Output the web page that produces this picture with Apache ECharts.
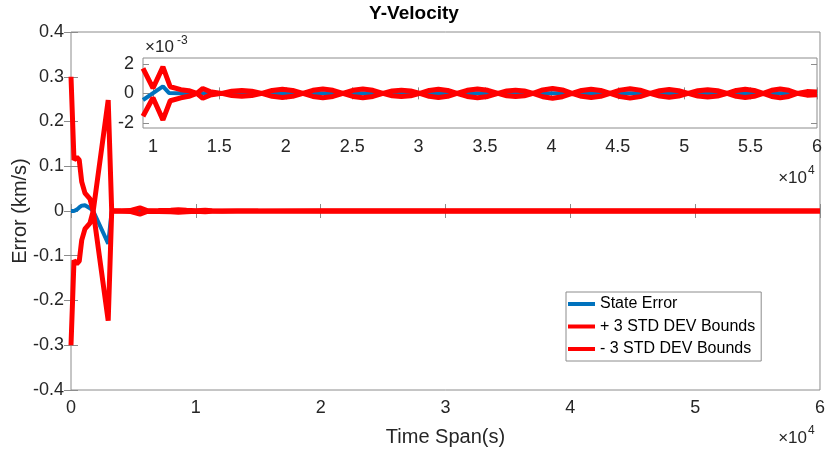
<!DOCTYPE html>
<html>
<head>
<meta charset="utf-8">
<script src="https://cdn.jsdelivr.net/npm/echarts@6/dist/echarts.min.js"></script>
<style>html,body{margin:0;padding:0;background:#fff}#c{width:828px;height:455px}</style>
</head>
<body>
<div id="c"></div>
<script>
// ---------- data (main plot, km/s) ----------
const tMain     = [0, 240, 460, 660, 860, 1120, 1520, 1780, 2980, 3260, 4000, 4720, 5520, 6100, 7000, 8000, 8600, 9250, 10000, 10750, 11300, 12100, 13300, 15000, 20000, 30000, 40000, 50000, 60000];
const errMain   = [0, 0, 0.003, 0.008, 0.012, 0.013, 0.006, 0, -0.073, 0, 0, 0, 0.001, 0, 0, 0, 0, -0.00045, 0, 0.00048, 0.00003, 0, 0, 0, 0, 0, 0, 0, 0];
const upperMain = [0.3, 0.114, 0.12, 0.114, 0.065, 0.04, 0.027, 0, 0.248, 0.0005, 0.0008, 0.001, 0.007, 0.0008, 0.001, 0.0015, 0.003, 0.0017, 0.00035, 0.0018, 0.00045, 0.00025, 0, 0.0002, 0.0003, 0.0003, 0.0003, 0.0003, 0.0001];
const lowerMain = [-0.3, -0.11, -0.118, -0.112, -0.065, -0.04, -0.027, 0, -0.245, -0.0005, -0.0008, -0.001, -0.007, -0.0008, -0.001, -0.0015, -0.003, -0.0016, -0.0003, -0.0018, -0.0005, -0.0003, 0, -0.0002, -0.0003, -0.0003, -0.0003, -0.0003, -0.0001];

// ---------- data (inset, units of 1e-3 km/s) ----------
const tErrInset = [9250, 10750, 11200, 12000, 60000];
const errInset  = [-0.45, 0.48, 0.03, 0, 0];
const tBndInset = [9250, 10000, 10750, 11300, 12100, 12700, 13300, 13750, 14300, 15180,
  15930, 16690, 17440, 18200, 18970, 19745, 20520, 21290, 22040, 22795, 23550, 24300,
  25050, 25805, 26560, 27310, 28010, 28705, 29400, 30100, 30800, 31495, 32190, 32890,
  33660, 34435, 35210, 35980, 36640, 37300, 37960, 38620, 39350, 40090, 40830, 41560,
  42270, 42990, 43710, 44420, 45170, 45925, 46680, 47430, 48150, 48865, 49580, 50300,
  51030, 51770, 52510, 53240, 53920, 54595, 55270, 55950, 56590, 57230, 57870, 58510, 59250, 60000];
const upperInset = [1.7, 0.35, 1.8, 0.45, 0.25, 0.18, 0, 0.33, 0.12, 0,
  0.14, 0.2, 0.14, 0, 0.2, 0.28, 0.2, 0, 0.21, 0.3, 0.21, 0,
  0.21, 0.3, 0.21, 0, 0.16, 0.22, 0.16, 0, 0.2, 0.28, 0.2, 0,
  0.21, 0.3, 0.21, 0, 0.16, 0.22, 0.16, 0, 0.23, 0.33, 0.23, 0,
  0.2, 0.28, 0.2, 0, 0.22, 0.32, 0.22, 0, 0.18, 0.26, 0.18, 0,
  0.18, 0.25, 0.18, 0, 0.2, 0.28, 0.2, 0, 0.21, 0.3, 0.21, 0, 0.12, 0.1];
const lowerInset = [-1.55, -0.3, -1.8, -0.5, -0.3, -0.2, 0, -0.33, -0.12, 0,
  -0.14, -0.2, -0.14, 0, -0.2, -0.28, -0.2, 0, -0.21, -0.3, -0.21, 0,
  -0.21, -0.3, -0.21, 0, -0.16, -0.22, -0.16, 0, -0.2, -0.28, -0.2, 0,
  -0.21, -0.3, -0.21, 0, -0.16, -0.22, -0.16, 0, -0.23, -0.33, -0.23, 0,
  -0.2, -0.28, -0.2, 0, -0.22, -0.32, -0.22, 0, -0.18, -0.26, -0.18, 0,
  -0.18, -0.25, -0.18, 0, -0.2, -0.28, -0.2, 0, -0.21, -0.3, -0.21, 0, -0.12, -0.1];

// ---------- tick labels ----------
const mainXTicks  = [0, 10000, 20000, 30000, 40000, 50000, 60000];
const insetXTicks = [10000, 15000, 20000, 25000, 30000, 35000, 40000, 45000, 50000, 55000, 60000];
const insetYTicks = [-2, 0, 2];
const seriesNames = ['State Error', '+ 3 STD DEV Bounds', '- 3 STD DEV Bounds'];

const BLUE = '#0072BD', RED = '#FF0000';
const AX = '#8c8c8c', TXT = '#262626';
const FONT = '"Liberation Sans", Arial, Helvetica, sans-serif';

const zip = (t, v) => t.map((x, i) => [x, v[i]]);

function mkX(grid, pos, min, max, extra) {
  return Object.assign({
    type: 'value', gridIndex: grid, position: pos, min: min, max: max,
    axisLine: { show: false },
    axisTick: { show: true, inside: true, length: 7, lineStyle: { color: AX, width: 1 } },
    splitLine: { show: false },
    axisLabel: { show: false }
  }, extra);
}

const chart = echarts.init(document.getElementById('c'), null, { renderer: 'canvas' });
chart.setOption({
  animation: false,
  backgroundColor: '#fff',
  grid: [
    { left: 71, right: 8, top: 32, bottom: 65, show: true, borderColor: AX, borderWidth: 1, backgroundColor: '#fff' },
    { left: 143, right: 11, top: 58, bottom: 327, show: true, borderColor: AX, borderWidth: 1, backgroundColor: '#fff', z: 5 }
  ],
  xAxis: [
    mkX(0, 'bottom', 0, 60000, {
      interval: 10000,
      axisLabel: { show: true, margin: 9, fontSize: 18, color: TXT, fontFamily: FONT, formatter: v => String(v / 10000) }
    }),
    mkX(0, 'top', 0, 60000, { interval: 10000 }),
    mkX(1, 'bottom', 9250, 60000, {
      z: 6,
      axisTick: { show: true, inside: true, length: 6, customValues: insetXTicks, lineStyle: { color: AX } },
      axisLabel: { show: true, margin: 10, fontSize: 18, color: TXT, fontFamily: FONT, customValues: insetXTicks, formatter: v => String(v / 10000) }
    }),
    mkX(1, 'top', 9250, 60000, {
      z: 6,
      axisTick: { show: true, inside: true, length: 6, customValues: insetXTicks, lineStyle: { color: AX } }
    })
  ],
  yAxis: [
    mkX(0, 'left', -0.4, 0.4, {
      interval: 0.1,
      axisLabel: { show: true, margin: 7, fontSize: 18, color: TXT, fontFamily: FONT,
        formatter: v => (Math.abs(v) < 1e-9 ? '0' : v.toFixed(1)) }
    }),
    mkX(0, 'right', -0.4, 0.4, { interval: 0.1 }),
    mkX(1, 'left', -2.35, 2.4, {
      z: 6,
      axisTick: { show: true, inside: true, length: 6, customValues: insetYTicks, lineStyle: { color: AX } },
      axisLabel: { show: true, margin: 9, fontSize: 18, color: TXT, fontFamily: FONT, customValues: insetYTicks, formatter: v => String(v) }
    }),
    mkX(1, 'right', -2.35, 2.4, {
      z: 6,
      axisTick: { show: true, inside: true, length: 6, customValues: insetYTicks, lineStyle: { color: AX } }
    })
  ],
  legend: {
    data: seriesNames,
    orient: 'vertical',
    left: 566, top: 292,
    padding: [1, 6, 1, 2],
    itemGap: 0.5,
    itemWidth: 27, itemHeight: 4,
    icon: 'rect',
    borderColor: AX, borderWidth: 1, backgroundColor: '#fff',
    textStyle: { fontSize: 16, color: '#000', fontFamily: FONT, lineHeight: 22 }
  },
  series: [
    { name: seriesNames[0], type: 'line', xAxisIndex: 0, yAxisIndex: 0, data: zip(tMain, errMain),
      showSymbol: false, symbol: 'none', lineStyle: { color: BLUE, width: 4 }, itemStyle: { color: BLUE } },
    { name: seriesNames[1], type: 'line', xAxisIndex: 0, yAxisIndex: 0, data: zip(tMain, upperMain),
      showSymbol: false, symbol: 'none', lineStyle: { color: RED, width: 5 }, itemStyle: { color: RED } },
    { name: seriesNames[2], type: 'line', xAxisIndex: 0, yAxisIndex: 0, data: zip(tMain, lowerMain),
      showSymbol: false, symbol: 'none', lineStyle: { color: RED, width: 5 }, itemStyle: { color: RED } },
    { name: 'inset-err', type: 'line', xAxisIndex: 2, yAxisIndex: 2, data: zip(tErrInset, errInset), z: 7,
      showSymbol: false, symbol: 'none', lineStyle: { color: BLUE, width: 4 }, clip: true },
    { name: 'inset-up', type: 'line', xAxisIndex: 2, yAxisIndex: 2, data: zip(tBndInset, upperInset), z: 7,
      showSymbol: false, symbol: 'none', lineStyle: { color: RED, width: 5 }, clip: true },
    { name: 'inset-low', type: 'line', xAxisIndex: 2, yAxisIndex: 2, data: zip(tBndInset, lowerInset), z: 7,
      showSymbol: false, symbol: 'none', lineStyle: { color: RED, width: 5 }, clip: true }
  ],
  graphic: [
    { type: 'text', left: 'center', top: 4, style: { text: 'Y-Velocity', font: 'bold 19px ' + FONT, fill: '#000' }, x: 0 },
    { type: 'text', x: 445.5, y: 437, style: { text: 'Time Span(s)', font: '20px ' + FONT, fill: TXT, textAlign: 'center', textVerticalAlign: 'middle' } },
    { type: 'text', x: 20, y: 211, rotation: Math.PI / 2, style: { text: 'Error (km/s)', font: '20px ' + FONT, fill: TXT, textAlign: 'center', textVerticalAlign: 'middle' } },
    // x10^4 main
    { type: 'text', x: 807, y: 438, style: { text: '\u00d710', font: '17px ' + FONT, fill: TXT, textAlign: 'right', textVerticalAlign: 'middle' } },
    { type: 'text', x: 808, y: 431, style: { text: '4', font: '12px ' + FONT, fill: TXT, textAlign: 'left', textVerticalAlign: 'middle' } },
    // x10^4 inset
    { type: 'text', x: 807, y: 178, z: 10, style: { text: '\u00d710', font: '17px ' + FONT, fill: TXT, textAlign: 'right', textVerticalAlign: 'middle' } },
    { type: 'text', x: 808, y: 171, z: 10, style: { text: '4', font: '12px ' + FONT, fill: TXT, textAlign: 'left', textVerticalAlign: 'middle' } },
    // x10^-3 inset
    { type: 'text', x: 145, y: 47, z: 10, style: { text: '\u00d710', font: '17px ' + FONT, fill: TXT, textAlign: 'left', textVerticalAlign: 'middle' } },
    { type: 'text', x: 177, y: 41, z: 10, style: { text: '-3', font: '12px ' + FONT, fill: TXT, textAlign: 'left', textVerticalAlign: 'middle' } }
  ]
});
</script>
</body>
</html>
